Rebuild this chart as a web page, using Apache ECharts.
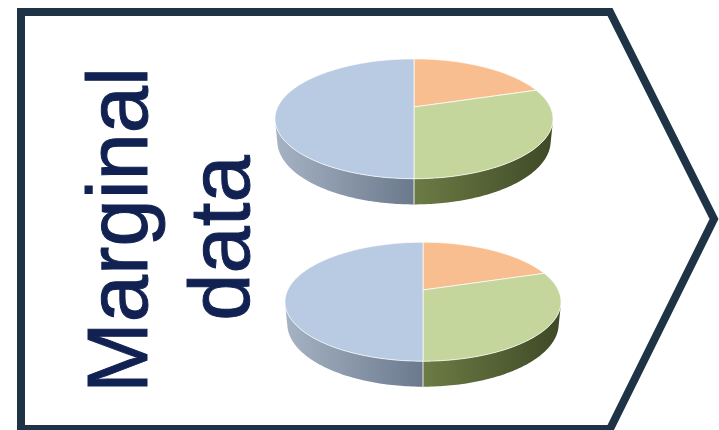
<!DOCTYPE html>
<html>
<head>
<meta charset="utf-8">
<script src="https://cdn.jsdelivr.net/npm/echarts@6/dist/echarts.min.js"></script>
<style>
  html, body { margin: 0; padding: 0; background: #ffffff; }
  #chart { width: 719px; height: 430px; }
</style>
</head>
<body>
<div id="chart"></div>
<script>
// Slice shares (percent), clockwise from 12 o'clock
const sliceNames = ['Segment A', 'Segment B', 'Segment C'];
const upperShares = [20, 30, 50];
const lowerShares = [20, 30, 50];
const headingLines = ['Marginal', 'data'];

// Placement of the two 3D pies (projected centre of the top face, half width)
const pieLayout = [
  { cx: 414, cy: 107, rx: 139 },
  { cx: 423, cy: 290, rx: 138 }
];

// Top-face fills and side-wall shading per slice
const topColors = ['#F9BE8F', '#C4D69C', '#B8CBE2'];
const sideColors = [
  ['#d9a074', '#a8703f'],
  ['#6c7c45', '#3f4926'],
  ['#a6b3c5', '#6b798c']
];

// Simple perspective camera looking down at the disc
const TILT = 25 * Math.PI / 180;
const DIST = 4.6;
const THICK = 0.18;
const sinT = Math.sin(TILT), cosT = Math.cos(TILT);
const widthFactor = 1 / Math.sqrt(DIST * DIST - cosT * cosT);
const silhouette = Math.acos(-1 / (DIST * cosT));

// Project a point of the unit disc (X right, Z towards viewer, Y up)
function projectXYZ(L, X, Y, Z) {
  const k = L.rx / widthFactor;
  const depth = DIST - Y * sinT - Z * cosT;
  return [L.cx + k * X / depth, L.cy - k * (Y * cosT - Z * sinT) / depth];
}
// Rim point at angle phi (0 = back, clockwise seen from above), height y
function project(L, phi, y) {
  return projectXYZ(L, Math.sin(phi), y, -Math.cos(phi));
}

function buildSlices(pieIndex, shares) {
  const total = shares.reduce((a, b) => a + b, 0);
  let acc = 0;
  return shares.map((v, i) => {
    const start = acc / total * 100;
    acc += v;
    return { name: sliceNames[i], value: [pieIndex, i, start, acc / total * 100, v] };
  });
}

const sliceData = buildSlices(0, upperShares).concat(buildSlices(1, lowerShares));
const DEG = Math.PI / 180;

function renderItem(params, api) {
  const L = pieLayout[api.value(0)];
  const idx = api.value(1);
  const a0 = api.value(2) / 100 * 2 * Math.PI;
  const a1 = api.value(3) / 100 * 2 * Math.PI;
  const children = [];

  // Visible part of the cylinder wall
  const s0 = Math.max(a0, silhouette), s1 = Math.min(a1, 2 * Math.PI - silhouette);
  if (s1 > s0) {
    const n = Math.max(2, Math.ceil((s1 - s0) / DEG));
    const upper = [], lower = [];
    for (let j = 0; j <= n; j++) {
      const phi = s0 + (s1 - s0) * j / n;
      upper.push(project(L, phi, 0));
      lower.push(project(L, phi, -THICK));
    }
    children.push({
      type: 'polygon',
      shape: { points: upper.concat(lower.reverse()) },
      style: {
        fill: new echarts.graphic.LinearGradient(0, 0, 1, 0, [
          { offset: 0, color: sideColors[idx][0] },
          { offset: 1, color: sideColors[idx][1] }
        ])
      }
    });
    if (a0 >= silhouette && a0 <= 2 * Math.PI - silhouette) {
      const p = project(L, a0, 0), q = project(L, a0, -THICK);
      children.push({
        type: 'line',
        shape: { x1: p[0], y1: p[1], x2: q[0], y2: q[1] },
        style: { stroke: 'rgba(255,255,255,0.85)', lineWidth: 1 }
      });
    }
  }

  // Top face of the slice
  const steps = Math.max(2, Math.ceil((a1 - a0) / DEG));
  const top = [projectXYZ(L, 0, 0, 0)];
  for (let j = 0; j <= steps; j++) top.push(project(L, a0 + (a1 - a0) * j / steps, 0));
  children.push({
    type: 'polygon',
    shape: { points: top },
    style: { fill: topColors[idx], stroke: 'rgba(255,255,255,0.7)', lineWidth: 1 }
  });

  return { type: 'group', children };
}

const chart = echarts.init(document.getElementById('chart'), null, { renderer: 'canvas' });

const navy = '#1f3346';
const textNavy = '#102152';

chart.setOption({
  animation: false,
  backgroundColor: '#ffffff',
  graphic: [
    {
      type: 'polygon',
      shape: { points: [[21, 12], [610, 12], [714, 219], [610, 429], [21, 429]] },
      style: { fill: 'none', stroke: navy, lineWidth: 8, lineJoin: 'miter' },
      z: 10
    },
    {
      type: 'text',
      x: 124, y: 230,
      rotation: Math.PI / 2,
      style: {
        text: headingLines[0],
        font: '85px "Liberation Sans", Arial, sans-serif',
        fill: textNavy,
        stroke: textNavy, lineWidth: 1,
        textAlign: 'center', textVerticalAlign: 'middle',
        align: 'center', verticalAlign: 'middle'
      },
      z: 10
    },
    {
      type: 'text',
      x: 226, y: 238,
      rotation: Math.PI / 2,
      style: {
        text: headingLines[1],
        font: '85px "Liberation Sans", Arial, sans-serif',
        fill: textNavy,
        stroke: textNavy, lineWidth: 1,
        textAlign: 'center', textVerticalAlign: 'middle',
        align: 'center', verticalAlign: 'middle'
      },
      z: 10
    }
  ],
  series: [{
    type: 'custom',
    coordinateSystem: 'none',
    silent: true,
    renderItem: renderItem,
    data: sliceData
  }]
});
</script>
</body>
</html>
